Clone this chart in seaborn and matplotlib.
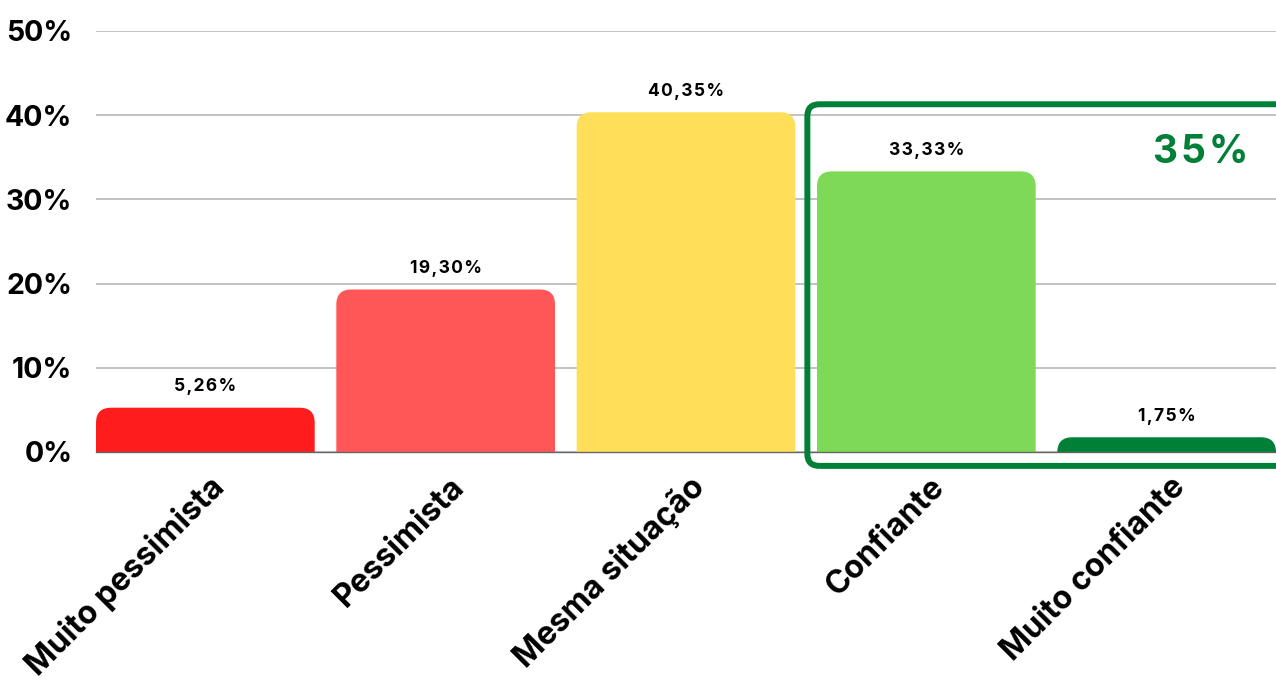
import numpy as np
import matplotlib
matplotlib.use("Agg")
import matplotlib.pyplot as plt
import matplotlib.transforms as mtransforms
import seaborn as sns
from matplotlib.patches import FancyBboxPatch

categorias = ["Muito pessimista", "Pessimista", "Mesma situação", "Confiante", "Muito confiante"]
valores = [5.26, 19.30, 40.35, 33.33, 1.75]
cores = ["#FF1C1C", "#FF5757", "#FFDE59", "#7ED957", "#008037"]
yticks = [0, 10, 20, 30, 40, 50]

sns.set_style("white")
plt.rcParams["font.family"] = ["Inter", "DejaVu Sans"]
plt.rcParams["text.color"] = "black"
plt.rcParams["xtick.color"] = "black"
plt.rcParams["ytick.color"] = "black"

fig = plt.figure(figsize=(12.76, 6.81), dpi=100)
ax = fig.add_axes([96 / 1276, 229 / 681, 1 - 96 / 1276, (452 - 31) / 681])

sns.barplot(x=categorias, y=valores, hue=categorias, palette=cores,
            width=0.91, legend=False, ax=ax, saturation=1)

ax.set_xlim(-0.455, 4.455)
ax.set_ylim(0, 50)
ax.set_yticks(yticks)
ax.set_yticklabels([f"{v}%" for v in yticks], fontsize=20.5, fontweight="bold")
ax.tick_params(axis="y", length=0, pad=17, labelcolor="black")
ax.tick_params(axis="x", length=0, pad=22, labelcolor="black")
ax.yaxis.grid(True, color="#BDBDBD", linewidth=1.3)
ax.set_axisbelow(True)
for s in ["top", "right", "left"]:
    ax.spines[s].set_visible(False)
ax.spines["bottom"].set_color("#666666")
ax.spines["bottom"].set_linewidth(1)
ax.spines["bottom"].set_zorder(5)

shift = mtransforms.ScaledTranslation(14 / 100, 0, fig.dpi_scale_trans)
for lbl in ax.get_xticklabels():
    lbl.set_rotation(45)
    lbl.set_ha("right")
    lbl.set_rotation_mode("anchor")
    lbl.set_fontsize(23)
    lbl.set_fontweight("bold")
    lbl.set_va("center")
    lbl.set_transform(lbl.get_transform() + shift)

# cantos arredondados no topo
fig.canvas.draw()
p0 = ax.transData.transform((0, 0))
p1 = ax.transData.transform((1, 10))
px_x = p1[0] - p0[0]
px_y = (p1[1] - p0[1]) / 10
r_px = 15
r_x = r_px / px_x
aspect = px_x / px_y

for patch in list(ax.patches):
    x0 = patch.get_x()
    w = patch.get_width()
    h = patch.get_height()
    fc = patch.get_facecolor()
    patch.remove()
    fb = FancyBboxPatch((x0, -3), w, h + 3,
                        boxstyle=f"round,pad=0,rounding_size={r_x}",
                        mutation_aspect=aspect, facecolor=fc,
                        edgecolor="none", zorder=3)
    ax.add_patch(fb)

hair = "\u200a"
for i, v in enumerate(valores):
    txt = f"{v:.2f}".replace(".", ",") + "%"
    txt = hair.join(txt)
    ax.text(i, v + 2.5, txt, ha="center", va="center", fontsize=12.5,
            fontweight="bold", color="black",
            family=["Inter", "DejaVu Sans"], zorder=6)

# destaque dos confiantes
verde = "#008037"
box = FancyBboxPatch((2.505, -1.65), 2.3, 42.95,
                     boxstyle=f"round,pad=0,rounding_size={12 / px_x}",
                     mutation_aspect=aspect, facecolor="none",
                     edgecolor=verde, linewidth=4.3, zorder=7, clip_on=False)
ax.add_patch(box)
total = round(valores[3] + valores[4])
ax.text(4.14, 35.6, hair.join(f"{total}%"), ha="center", va="center",
        fontsize=28, fontweight="bold", color=verde,
        family=["Inter", "DejaVu Sans"], zorder=8)

ax.set_xlabel("")
ax.set_ylabel("")
fig.savefig("out.png", dpi=100)
